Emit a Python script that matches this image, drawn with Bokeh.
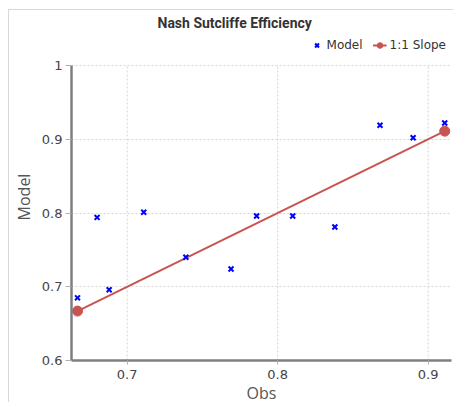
from bokeh.plotting import figure
from bokeh.models import Legend, LegendItem, ColumnDataSource, Range1d, FixedTicker, NumeralTickFormatter
from bokeh.embed import file_html
from bokeh.resources import INLINE

# data
obs = [0.667, 0.680, 0.688, 0.711, 0.739, 0.769, 0.786, 0.810, 0.838, 0.868, 0.890, 0.911]
model = [0.685, 0.794, 0.696, 0.801, 0.740, 0.724, 0.796, 0.796, 0.781, 0.919, 0.902, 0.922]
slope_x = [0.667, 0.911]
slope_y = [0.667, 0.911]
x_ticks = [0.7, 0.8, 0.9]
y_ticks = [0.6, 0.7, 0.8, 0.9, 1.0]

y_lo, y_hi = min(y_ticks), max(y_ticks)

p = figure(frame_width=380, frame_height=327,
           min_border_left=61, min_border_right=3, min_border_top=23, min_border_bottom=41,
           x_range=Range1d(0.663, 0.9155), y_range=Range1d(0.6, 1.0434),
           output_backend="svg", toolbar_location=None,
           margin=(9, 0, 0, 8),
           styles={"border-top": "1px solid #d8d8d8", "border-left": "1px solid #d8d8d8"})
p.outline_line_color = None
p.background_fill_color = "white"

p.title.text = "Nash Sutcliffe Efficiency"
p.title.align = "left"
p.title.offset = 86
p.title.standoff = 5
p.title.text_font = "Roboto"
p.title.text_font_style = "bold"
p.title.text_font_size = "14px"
p.title.text_color = "#333333"

src = ColumnDataSource(dict(x=obs, y=model))
sl = ColumnDataSource(dict(x=slope_x, y=slope_y))

grid_col = "#d5d5d5"
p.xgrid.visible = False
p.segment(x0=x_ticks, y0=[y_lo] * len(x_ticks), x1=x_ticks, y1=[y_hi] * len(x_ticks),
          line_color=grid_col, line_dash="2 2", line_width=1)
p.ygrid.grid_line_color = grid_col
p.ygrid.grid_line_dash = "2 2"

red = "#c9534f"
ln = p.line("x", "y", source=sl, line_color=red, line_width=2)
dots = p.scatter("x", "y", source=sl, marker="circle", size=10, fill_color=red, line_color=red)
pts = p.scatter("x", "y", source=src, marker="x", size=7, line_color="#0000ff", line_width=2)

legend = Legend(items=[LegendItem(label="Model", renderers=[pts]),
                       LegendItem(label="1:1 Slope", renderers=[ln, dots])],
                orientation="horizontal", location="top_right",
                padding=0, margin=5, spacing=10, glyph_width=14, glyph_height=14,
                label_standoff=3, border_line_color=None, background_fill_alpha=0,
                label_text_font="DejaVu Sans", label_text_font_size="12px",
                label_text_color="#333333")
p.add_layout(legend, "center")

for ax in (p.xaxis[0], p.yaxis[0]):
    ax.axis_line_color = "#7f7f7f"
    ax.axis_line_width = 2.5
    ax.major_tick_line_color = "#b0b0b0"
    ax.minor_tick_line_color = None
    ax.major_label_text_font = "DejaVu Sans"
    ax.major_label_text_font_size = "13px"
    ax.major_label_text_color = "#444444"
    ax.axis_label_text_font = "Open Sans"
    ax.axis_label_text_font_size = "16px"
    ax.axis_label_text_font_style = "normal"
    ax.axis_label_text_color = "#555555"

p.xaxis.axis_label = "Obs"
p.yaxis.axis_label = "Model"
p.yaxis.bounds = (y_lo, y_hi)
p.xaxis.ticker = FixedTicker(ticks=x_ticks)
p.yaxis.ticker = FixedTicker(ticks=y_ticks)
p.yaxis.formatter = NumeralTickFormatter(format="0.[0]")
p.xaxis.formatter = NumeralTickFormatter(format="0.[0]")
p.xaxis.major_tick_out = 4
p.xaxis.major_tick_in = 0
p.xaxis.major_label_standoff = 5
p.xaxis.axis_label_standoff = 0
p.yaxis.major_tick_out = 6
p.yaxis.major_tick_in = 0
p.yaxis.major_label_standoff = 3
p.yaxis.axis_label_standoff = 4

open("out.html", "w").write(file_html(p, INLINE))
